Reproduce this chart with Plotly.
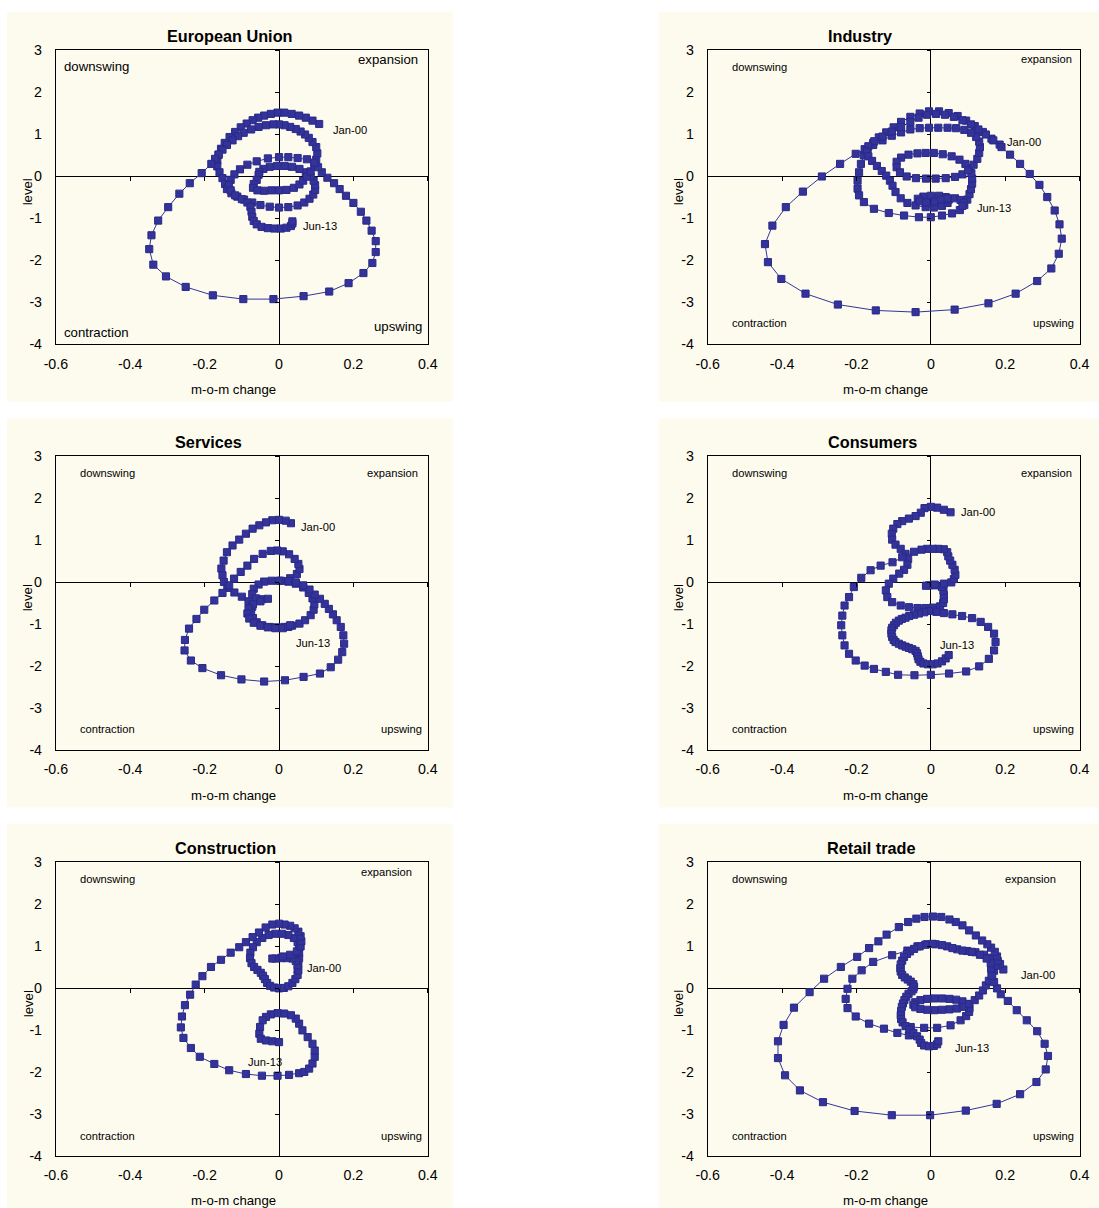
import plotly.graph_objects as go

# ---------------- data (m-o-m change, level) ----------------
panel_titles = ["European Union", "Industry", "Services", "Consumers", "Construction", "Retail trade"]
x_tick_vals = [-0.6, -0.4, -0.2, 0, 0.2, 0.4]
x_tick_text = ["-0.6", "-0.4", "-0.2", "0", "0.2", "0.4"]
y_tick_vals = [3, 2, 1, 0, -1, -2, -3, -4]
y_tick_text = ["3", "2", "1", "0", "-1", "-2", "-3", "-4"]
quadrant_names = ["downswing", "expansion", "contraction", "upswing"]
first_label, last_label = "Jan-00", "Jun-13"
x_title, y_title = "m-o-m change", "level"

eu_points = [
    (0.108, 1.25), (0.090, 1.33), (0.072, 1.40), (0.054, 1.45), (0.034, 1.49), (0.014, 1.52), (-0.004, 1.52),
    (-0.022, 1.49), (-0.040, 1.45), (-0.056, 1.40), (-0.071, 1.34), (-0.087, 1.26), (-0.103, 1.17), (-0.118, 1.06),
    (-0.133, 0.94), (-0.146, 0.80), (-0.156, 0.66), (-0.163, 0.52), (-0.166, 0.38), (-0.166, 0.24), (-0.160, 0.10),
    (-0.152, -0.04), (-0.145, -0.18), (-0.140, -0.30), (-0.128, -0.40), (-0.112, -0.48), (-0.094, -0.55),
    (-0.072, -0.62), (-0.050, -0.68), (-0.025, -0.72), (0.000, -0.74), (0.025, -0.73), (0.050, -0.69),
    (0.068, -0.62), (0.082, -0.53), (0.092, -0.43), (0.097, -0.32), (0.097, -0.21), (0.093, -0.10), (0.085, 0.00),
    (0.072, 0.10), (0.055, 0.18), (0.035, 0.23), (0.015, 0.25), (-0.005, 0.25), (-0.025, 0.23), (-0.042, 0.18),
    (-0.053, 0.11), (-0.055, 0.04), (-0.060, -0.08), (-0.068, -0.18), (-0.070, -0.27), (-0.058, -0.33),
    (-0.040, -0.34), (-0.020, -0.33), (0.000, -0.33), (0.020, -0.32), (0.040, -0.27), (0.055, -0.19),
    (0.065, -0.10), (0.075, 0.00), (0.085, 0.12), (0.095, 0.25), (0.100, 0.40), (0.103, 0.55), (0.100, 0.70),
    (0.090, 0.82), (0.080, 0.92), (0.070, 1.00), (0.058, 1.07), (0.045, 1.13), (0.030, 1.18), (0.015, 1.22),
    (0.000, 1.24), (-0.015, 1.24), (-0.035, 1.22), (-0.055, 1.18), (-0.075, 1.12), (-0.095, 1.04), (-0.110, 0.96),
    (-0.125, 0.86), (-0.140, 0.75), (-0.152, 0.64), (-0.162, 0.52), (-0.172, 0.42), (-0.182, 0.30),
    (-0.208, 0.08), (-0.240, -0.16), (-0.268, -0.41), (-0.298, -0.73), (-0.325, -1.05), (-0.343, -1.40),
    (-0.349, -1.73), (-0.338, -2.10), (-0.304, -2.38), (-0.251, -2.63), (-0.178, -2.83), (-0.096, -2.92),
    (-0.015, -2.92), (0.066, -2.85), (0.135, -2.74), (0.187, -2.54), (0.227, -2.30), (0.251, -2.06),
    (0.260, -1.80), (0.260, -1.54), (0.249, -1.29), (0.235, -1.05), (0.220, -0.84), (0.200, -0.63),
    (0.180, -0.46), (0.163, -0.30), (0.148, -0.16), (0.130, -0.03), (0.115, 0.10), (0.105, 0.22), (0.095, 0.33),
    (0.075, 0.41), (0.050, 0.44), (0.025, 0.46), (0.000, 0.46), (-0.030, 0.43), (-0.060, 0.36), (-0.085, 0.28),
    (-0.105, 0.17), (-0.120, 0.05), (-0.130, -0.08), (-0.135, -0.20), (-0.130, -0.33), (-0.118, -0.45),
    (-0.100, -0.54), (-0.085, -0.62), (-0.077, -0.72), (-0.074, -0.84), (-0.072, -0.96), (-0.068, -1.06),
    (-0.060, -1.14), (-0.047, -1.20), (-0.030, -1.23), (-0.012, -1.24), (0.005, -1.24), (0.020, -1.22),
    (0.032, -1.18), (0.036, -1.12), (0.036, -1.07),
]

industry_points = [
    (0.185, 0.76), (0.163, 0.90), (0.140, 1.06), (0.118, 1.20), (0.095, 1.33), (0.072, 1.44), (0.048, 1.51),
    (0.022, 1.55), (-0.005, 1.55), (-0.030, 1.50), (-0.055, 1.42), (-0.080, 1.30), (-0.100, 1.17), (-0.120, 1.05),
    (-0.140, 0.93), (-0.155, 0.80), (-0.170, 0.66), (-0.180, 0.50), (-0.188, 0.30), (-0.193, 0.10), (-0.197, -0.10),
    (-0.197, -0.29), (-0.193, -0.45), (-0.180, -0.61), (-0.153, -0.77), (-0.113, -0.87), (-0.072, -0.93),
    (-0.032, -0.97), (0.000, -0.97), (0.030, -0.93), (0.057, -0.88), (0.078, -0.80), (0.090, -0.68),
    (0.098, -0.55), (0.104, -0.42), (0.108, -0.30), (0.111, -0.17), (0.111, -0.05), (0.109, 0.08), (0.103, 0.20),
    (0.093, 0.30), (0.077, 0.40), (0.056, 0.48), (0.032, 0.53), (0.008, 0.56), (-0.014, 0.56), (-0.036, 0.55),
    (-0.060, 0.52), (-0.080, 0.45), (-0.092, 0.35), (-0.092, 0.22), (-0.083, 0.10), (-0.065, 0.00),
    (-0.040, -0.04), (-0.013, -0.05), (0.013, -0.05), (0.040, -0.04), (0.065, -0.01), (0.085, 0.05), (0.100, 0.15),
    (0.115, 0.28), (0.125, 0.42), (0.130, 0.56), (0.132, 0.70), (0.130, 0.83), (0.122, 0.94), (0.108, 1.04),
    (0.090, 1.11), (0.068, 1.15), (0.045, 1.16), (0.020, 1.16), (-0.005, 1.16), (-0.030, 1.15), (-0.055, 1.12),
    (-0.080, 1.05), (-0.105, 0.97), (-0.130, 0.86), (-0.155, 0.75), (-0.178, 0.65), (-0.202, 0.54),
    (-0.244, 0.30), (-0.293, 0.00), (-0.344, -0.36), (-0.390, -0.73), (-0.426, -1.17), (-0.446, -1.61),
    (-0.438, -2.04), (-0.402, -2.44), (-0.337, -2.79), (-0.250, -3.05), (-0.148, -3.19), (-0.041, -3.23),
    (0.064, -3.17), (0.155, -3.02), (0.228, -2.79), (0.286, -2.49), (0.324, -2.19), (0.344, -1.84),
    (0.352, -1.48), (0.346, -1.14), (0.333, -0.81), (0.313, -0.49), (0.292, -0.20), (0.266, 0.06), (0.240, 0.30),
    (0.213, 0.52), (0.190, 0.70), (0.168, 0.86), (0.148, 1.00), (0.128, 1.12), (0.108, 1.24), (0.085, 1.34),
    (0.062, 1.42), (0.038, 1.47), (0.014, 1.49), (-0.010, 1.47), (-0.033, 1.40), (-0.055, 1.30), (-0.080, 1.18),
    (-0.105, 1.07), (-0.130, 0.95), (-0.152, 0.84), (-0.168, 0.72), (-0.172, 0.60), (-0.168, 0.48),
    (-0.158, 0.37), (-0.145, 0.25), (-0.132, 0.13), (-0.120, 0.02), (-0.110, -0.10), (-0.103, -0.22),
    (-0.095, -0.37), (-0.081, -0.52), (-0.063, -0.63), (-0.041, -0.69), (-0.014, -0.73), (0.008, -0.74),
    (0.030, -0.70), (0.045, -0.63), (0.048, -0.55), (0.040, -0.49), (0.022, -0.46), (0.000, -0.46),
    (-0.020, -0.48), (-0.035, -0.53), (-0.030, -0.59), (-0.012, -0.62), (0.010, -0.60), (0.028, -0.55),
    (0.045, -0.52), (0.065, -0.52), (0.080, -0.56), (0.088, -0.63), (0.085, -0.70),
]

services_points = [
    (0.032, 1.41), (0.018, 1.47), (0.000, 1.49), (-0.018, 1.48), (-0.035, 1.43), (-0.053, 1.36), (-0.071, 1.28),
    (-0.089, 1.16), (-0.107, 1.02), (-0.125, 0.88), (-0.140, 0.72), (-0.149, 0.52), (-0.155, 0.33),
    (-0.152, 0.17), (-0.148, 0.01), (-0.139, -0.13), (-0.120, -0.24), (-0.100, -0.34), (-0.082, -0.45),
    (-0.072, -0.58), (-0.075, -0.72), (-0.070, -0.85), (-0.060, -0.95), (-0.045, -1.02), (-0.025, -1.06),
    (-0.005, -1.07), (0.015, -1.06), (0.035, -1.03), (0.055, -0.98), (0.070, -0.90), (0.085, -0.78),
    (0.093, -0.65), (0.095, -0.52), (0.090, -0.38), (0.080, -0.25), (0.065, -0.12), (0.045, -0.03),
    (0.025, 0.02), (0.005, 0.04), (0.030, 0.10), (0.048, 0.20), (0.055, 0.32), (0.052, 0.44), (0.042, 0.56),
    (0.027, 0.67), (0.010, 0.74), (-0.005, 0.76), (-0.022, 0.75), (-0.044, 0.68), (-0.067, 0.56),
    (-0.085, 0.40), (-0.103, 0.25), (-0.121, 0.09), (-0.134, -0.07), (-0.152, -0.25), (-0.174, -0.43),
    (-0.201, -0.65), (-0.222, -0.87), (-0.242, -1.10), (-0.253, -1.37), (-0.254, -1.62), (-0.237, -1.86),
    (-0.206, -2.04), (-0.156, -2.21), (-0.101, -2.31), (-0.040, -2.36), (0.016, -2.33), (0.066, -2.25),
    (0.110, -2.17), (0.139, -2.02), (0.159, -1.84), (0.170, -1.66), (0.175, -1.46), (0.173, -1.26),
    (0.166, -1.06), (0.155, -0.90), (0.145, -0.76), (0.134, -0.63), (0.123, -0.51), (0.110, -0.39),
    (0.096, -0.29), (0.082, -0.17), (0.065, -0.07), (0.045, 0.00), (0.025, 0.03), (0.000, 0.04),
    (-0.020, 0.04), (-0.040, 0.02), (-0.055, -0.05), (-0.068, -0.15), (-0.072, -0.28), (-0.062, -0.38),
    (-0.045, -0.40), (-0.030, -0.39), (-0.050, -0.45), (-0.070, -0.52), (-0.082, -0.62), (-0.085, -0.74),
    (-0.080, -0.86), (-0.068, -0.96), (-0.050, -1.03), (-0.030, -1.07), (-0.010, -1.09), (0.010, -1.09),
    (0.025, -1.06), (0.030, -1.02),
]

consumers_points = [
    (0.053, 1.67), (0.035, 1.73), (0.017, 1.78), (0.000, 1.80), (-0.017, 1.77), (-0.027, 1.66), (-0.041, 1.58),
    (-0.059, 1.52), (-0.077, 1.46), (-0.090, 1.39), (-0.101, 1.28), (-0.105, 1.16), (-0.104, 1.02),
    (-0.095, 0.90), (-0.081, 0.80), (-0.068, 0.68), (-0.061, 0.56), (-0.063, 0.42), (-0.072, 0.30),
    (-0.085, 0.21), (-0.101, 0.09), (-0.113, -0.03), (-0.121, -0.19), (-0.117, -0.35), (-0.104, -0.47),
    (-0.081, -0.55), (-0.059, -0.59), (-0.036, -0.61), (-0.015, -0.61), (0.005, -0.60), (0.025, -0.57),
    (0.033, -0.49), (0.035, -0.40), (0.035, -0.30), (0.034, -0.20), (0.030, -0.11), (0.012, -0.07),
    (-0.005, -0.07), (-0.013, -0.08), (0.010, -0.05), (0.035, -0.03), (0.055, 0.00), (0.062, 0.08),
    (0.066, 0.18), (0.064, 0.30), (0.058, 0.42), (0.052, 0.52), (0.047, 0.62), (0.044, 0.72), (0.035, 0.79),
    (0.020, 0.80), (0.005, 0.80), (-0.010, 0.80), (-0.025, 0.78), (-0.045, 0.73), (-0.077, 0.60),
    (-0.103, 0.48), (-0.135, 0.40), (-0.162, 0.29), (-0.187, 0.11), (-0.207, -0.11), (-0.220, -0.35),
    (-0.232, -0.55), (-0.238, -0.79), (-0.241, -1.02), (-0.238, -1.26), (-0.232, -1.50), (-0.220, -1.70),
    (-0.202, -1.86), (-0.178, -1.98), (-0.153, -2.06), (-0.121, -2.13), (-0.088, -2.20), (-0.044, -2.21),
    (0.000, -2.20), (0.049, -2.17), (0.095, -2.12), (0.130, -2.00), (0.156, -1.82), (0.170, -1.62),
    (0.174, -1.42), (0.170, -1.22), (0.154, -1.06), (0.134, -0.94), (0.111, -0.85), (0.084, -0.80),
    (0.058, -0.76), (0.035, -0.73), (0.015, -0.70), (-0.005, -0.68), (-0.018, -0.71), (-0.032, -0.74),
    (-0.045, -0.77), (-0.058, -0.80), (-0.068, -0.84), (-0.078, -0.87), (-0.086, -0.91), (-0.094, -0.96),
    (-0.099, -1.02), (-0.104, -1.08), (-0.106, -1.14), (-0.106, -1.22), (-0.104, -1.30), (-0.100, -1.37),
    (-0.095, -1.42), (-0.086, -1.46), (-0.077, -1.50), (-0.068, -1.53), (-0.059, -1.56), (-0.050, -1.59),
    (-0.041, -1.63), (-0.037, -1.69), (-0.035, -1.76), (-0.033, -1.83), (-0.028, -1.89), (-0.020, -1.93),
    (-0.008, -1.95), (0.005, -1.95), (0.018, -1.93), (0.030, -1.88), (0.040, -1.81), (0.048, -1.73),
]

construction_points = [
    (0.050, 0.45), (0.052, 0.59), (0.054, 0.72), (0.054, 0.85), (0.054, 0.98), (0.050, 1.10), (0.040, 1.20),
    (0.025, 1.27), (0.008, 1.30), (-0.010, 1.30), (-0.028, 1.27), (-0.045, 1.20), (-0.060, 1.10),
    (-0.070, 0.98), (-0.077, 0.85), (-0.078, 0.72), (-0.074, 0.60), (-0.067, 0.51), (-0.058, 0.44),
    (-0.049, 0.37), (-0.043, 0.30), (-0.038, 0.22), (-0.032, 0.13), (-0.024, 0.06), (-0.013, 0.02),
    (0.000, 0.00), (0.013, 0.01), (0.025, 0.05), (0.036, 0.13), (0.044, 0.22), (0.050, 0.32), (0.052, 0.43),
    (0.050, 0.55), (0.045, 0.65), (0.036, 0.71), (0.020, 0.72), (0.005, 0.72), (-0.010, 0.71), (-0.018, 0.71),
    (0.010, 0.76), (0.030, 0.80), (0.048, 0.88), (0.058, 1.00), (0.060, 1.12), (0.058, 1.24), (0.052, 1.35),
    (0.042, 1.43), (0.030, 1.49), (0.015, 1.52), (0.000, 1.54), (-0.018, 1.52), (-0.036, 1.45),
    (-0.054, 1.33), (-0.071, 1.22), (-0.089, 1.10), (-0.107, 0.98), (-0.130, 0.85), (-0.156, 0.68),
    (-0.183, 0.51), (-0.206, 0.29), (-0.224, 0.09), (-0.239, -0.15), (-0.253, -0.40), (-0.261, -0.67),
    (-0.264, -0.93), (-0.257, -1.18), (-0.237, -1.42), (-0.213, -1.63), (-0.174, -1.80), (-0.134, -1.95),
    (-0.089, -2.04), (-0.046, -2.08), (-0.004, -2.08), (0.027, -2.06), (0.054, -2.02), (0.068, -1.99),
    (0.081, -1.91), (0.090, -1.79), (0.096, -1.63), (0.096, -1.48), (0.090, -1.32), (0.077, -1.16),
    (0.063, -1.00), (0.054, -0.84), (0.045, -0.72), (0.032, -0.64), (0.014, -0.60), (-0.004, -0.59),
    (-0.022, -0.62), (-0.035, -0.68), (-0.044, -0.76), (-0.051, -0.92), (-0.053, -1.08), (-0.049, -1.20),
    (-0.035, -1.24), (-0.018, -1.26), (0.000, -1.28),
]

retail_points = [
    (0.195, 0.45), (0.186, 0.58), (0.175, 0.68), (0.161, 0.73), (0.143, 0.80), (0.120, 0.86), (0.098, 0.89),
    (0.071, 0.93), (0.044, 1.00), (0.013, 1.05), (-0.010, 1.05), (-0.036, 1.00), (-0.063, 0.90),
    (-0.104, 0.79), (-0.155, 0.63), (-0.186, 0.43), (-0.211, 0.23), (-0.224, -0.01), (-0.229, -0.25),
    (-0.224, -0.47), (-0.202, -0.67), (-0.166, -0.84), (-0.126, -0.96), (-0.090, -1.06), (-0.059, -1.12),
    (-0.054, -0.92), (-0.018, -0.94), (0.017, -0.94), (0.053, -0.88), (0.080, -0.76), (0.095, -0.66),
    (0.103, -0.56), (0.104, -0.47), (0.098, -0.38), (0.085, -0.31), (0.068, -0.27), (0.050, -0.25),
    (0.030, -0.24), (0.010, -0.24), (-0.010, -0.25), (-0.028, -0.28), (-0.042, -0.33), (-0.047, -0.39),
    (-0.042, -0.45), (-0.028, -0.49), (-0.010, -0.51), (0.010, -0.52), (0.030, -0.51), (0.050, -0.50),
    (0.070, -0.48), (0.088, -0.44), (0.103, -0.37), (0.118, -0.28), (0.130, -0.17), (0.140, -0.05),
    (0.148, 0.07), (0.156, 0.18), (0.163, 0.30), (0.170, 0.42), (0.176, 0.54), (0.180, 0.65), (0.178, 0.76),
    (0.172, 0.87), (0.162, 0.97), (0.152, 1.05), (0.138, 1.14), (0.121, 1.26), (0.103, 1.38), (0.085, 1.50),
    (0.067, 1.58), (0.050, 1.64), (0.028, 1.70), (0.006, 1.71), (-0.017, 1.70), (-0.039, 1.66),
    (-0.061, 1.58), (-0.086, 1.46), (-0.119, 1.28), (-0.141, 1.12), (-0.166, 0.96), (-0.198, 0.75),
    (-0.242, 0.51), (-0.287, 0.23), (-0.326, -0.09), (-0.368, -0.46), (-0.396, -0.87), (-0.411, -1.26),
    (-0.411, -1.66), (-0.392, -2.07), (-0.352, -2.43), (-0.290, -2.71), (-0.205, -2.92), (-0.105, -3.02),
    (-0.002, -3.02), (0.094, -2.91), (0.177, -2.75), (0.240, -2.52), (0.284, -2.23), (0.309, -1.93),
    (0.315, -1.61), (0.306, -1.32), (0.286, -1.02), (0.258, -0.76), (0.231, -0.52), (0.207, -0.30),
    (0.188, -0.14), (0.178, 0.00), (0.170, 0.15), (0.165, 0.30), (0.162, 0.47), (0.161, 0.60), (0.150, 0.71),
    (0.132, 0.80), (0.110, 0.87), (0.085, 0.90), (0.058, 0.96), (0.030, 1.03), (0.005, 1.06), (-0.015, 1.04),
    (-0.030, 1.00), (-0.045, 0.94), (-0.056, 0.88), (-0.064, 0.82), (-0.072, 0.75), (-0.077, 0.66),
    (-0.081, 0.57), (-0.082, 0.48), (-0.081, 0.40), (-0.077, 0.32), (-0.070, 0.26), (-0.062, 0.21),
    (-0.054, 0.16), (-0.047, 0.10), (-0.045, 0.04), (-0.047, -0.02), (-0.052, -0.07), (-0.060, -0.13),
    (-0.066, -0.20), (-0.071, -0.28), (-0.075, -0.36), (-0.078, -0.44), (-0.080, -0.54), (-0.081, -0.64),
    (-0.080, -0.73), (-0.076, -0.81), (-0.068, -0.90), (-0.058, -0.98), (-0.047, -1.06), (-0.037, -1.14),
    (-0.030, -1.22), (-0.026, -1.30), (-0.018, -1.36), (-0.005, -1.38), (0.008, -1.37), (0.017, -1.33),
    (0.020, -1.26),
]

series_list = [eu_points, industry_points, services_points, consumers_points, construction_points, retail_points]

# ---------------- layout geometry: target pixels in the photographed 1099 x 1208 picture ----------------
plot_boxes = [(55, 50, 427, 344), (707, 50, 1079, 344),
              (55, 456, 427, 750), (707, 456, 1079, 750),
              (55, 862, 427, 1156), (707, 862, 1079, 1156)]
panel_boxes = [(6, 11, 452, 401), (658, 11, 1098, 401),
               (6, 418, 452, 807), (658, 418, 1098, 807),
               (6, 823, 452, 1212), (658, 823, 1098, 1212)]
title_pos = [(229, 36), (859, 36), (208, 442), (872, 442), (225, 848), (871, 848)]
xtitle_pos = [(233, 389), (885, 389), (233, 795), (885, 795), (233, 1200), (885, 1200)]
ytitle_pos = [(27, 191), (678, 191), (27, 597), (678, 597), (27, 1003), (678, 1003)]
# quadrant label anchor pixels: downswing(left), expansion(right), contraction(left), upswing(right)
quad_pos = [
    [(61, 66), (419, 59), (61, 332), (423, 326)],
    [(729, 67), (1073, 59), (729, 323), (1075, 323)],
    [(77, 473), (419, 473), (77, 729), (423, 729)],
    [(729, 473), (1073, 473), (729, 729), (1075, 729)],
    [(77, 879), (413, 872), (77, 1136), (423, 1136)],
    [(729, 879), (1057, 879), (729, 1136), (1075, 1136)],
]
quad_font = [13, 11, 11, 11, 11, 11]
# label anchor (data coords) for first and last month
first_label_pos = [(0.139, 1.10), (0.200, 0.81), (0.054, 1.33), (0.075, 1.67), (0.069, 0.48), (0.236, 0.31)]
last_label_pos = [(0.058, -1.19), (0.120, -0.74), (0.040, -1.45), (0.018, -1.48), (-0.089, -1.76), (0.059, -1.43)]

# the photograph maps page pixel p to picture pixel OFF + SCALE * p; invert it so targets land right
PHOTO_X0, PHOTO_SX = 11.1, 0.9805
PHOTO_Y0, PHOTO_SY = 7.5, 0.987
W, H = 1112, 1218
K = 1 / ((PHOTO_SX + PHOTO_SY) / 2)   # size compensation for fonts / markers

X_RANGE = [-0.6, 0.4]
Y_RANGE = [-4, 3]
FONT = "Arial, 'Liberation Sans', 'DejaVu Sans', sans-serif"
NAVY = "#333399"
PANEL_BG = "#FDFBEE"
PLOT_BG = "#FFFEF5"


def fx(p):
    return ((p - PHOTO_X0) / PHOTO_SX) / W


def fy(p):
    return 1 - ((p - PHOTO_Y0) / PHOTO_SY) / H


fig = go.Figure()
layout = dict(
    width=W, height=H, margin=dict(l=0, r=0, t=0, b=0),
    paper_bgcolor="white", plot_bgcolor=PLOT_BG, showlegend=False,
    font=dict(family=FONT, color="black"),
    shapes=[], annotations=[],
)

for i, (pts, (l, t, r, b)) in enumerate(zip(series_list, plot_boxes), start=1):
    mom = [p[0] for p in pts]
    lev = [p[1] for p in pts]
    fig.add_trace(go.Scatter(
        x=mom, y=lev, xaxis=f"x{i}", yaxis=f"y{i}", mode="lines+markers",
        line=dict(color=NAVY, width=1),
        marker=dict(symbol="square", size=7 * K, color=NAVY, line=dict(color="#2a2a8a", width=1)),
        hoverinfo="skip", cliponaxis=True,
    ))
    # helper traces so the crossing tick axes get drawn
    fig.add_trace(go.Scatter(x=[None], y=[None], xaxis=f"x{i + 6}", yaxis=f"y{i}", hoverinfo="skip"))
    fig.add_trace(go.Scatter(x=[None], y=[None], xaxis=f"x{i}", yaxis=f"y{i + 6}", hoverinfo="skip"))

    xdom = [fx(l), fx(r)]
    ydom = [fy(b), fy(t)]
    layout[f"xaxis{i}"] = dict(
        domain=xdom, range=X_RANGE, anchor=f"y{i}", tickmode="array",
        tickvals=x_tick_vals, ticktext=x_tick_text, ticks="", showgrid=False,
        showline=True, mirror=True, linecolor="black", linewidth=1,
        zeroline=True, zerolinecolor="black", zerolinewidth=1,
        tickfont=dict(size=14 * K, family=FONT, color="black"), ticklabelstandoff=6, fixedrange=True,
    )
    layout[f"yaxis{i}"] = dict(
        domain=ydom, range=Y_RANGE, anchor=f"x{i}", tickmode="array",
        tickvals=y_tick_vals, ticktext=y_tick_text, ticks="", showgrid=False,
        showline=True, mirror=True, linecolor="black", linewidth=1,
        zeroline=True, zerolinecolor="black", zerolinewidth=1,
        tickfont=dict(size=14 * K, family=FONT, color="black"), ticklabelstandoff=10, fixedrange=True,
    )
    # zero-crossing axes carrying the small tick marks
    zero_y_frac = ydom[0] + (0 - Y_RANGE[0]) / (Y_RANGE[1] - Y_RANGE[0]) * (ydom[1] - ydom[0])
    zero_x_frac = xdom[0] + (0 - X_RANGE[0]) / (X_RANGE[1] - X_RANGE[0]) * (xdom[1] - xdom[0])
    layout[f"xaxis{i + 6}"] = dict(
        domain=xdom, range=X_RANGE, overlaying=f"x{i}", anchor="free", position=zero_y_frac,
        side="bottom", tickmode="array", tickvals=x_tick_vals, ticks="outside", ticklen=4,
        tickwidth=1, tickcolor="black", showticklabels=False, showline=False, showgrid=False,
        zeroline=False, fixedrange=True,
    )
    layout[f"yaxis{i + 6}"] = dict(
        domain=ydom, range=Y_RANGE, overlaying=f"y{i}", anchor="free", position=zero_x_frac,
        side="left", tickmode="array", tickvals=y_tick_vals, ticks="outside", ticklen=4,
        tickwidth=1, tickcolor="black", showticklabels=False, showline=False, showgrid=False,
        zeroline=False, fixedrange=True,
    )

# panel backgrounds
for (l, t, r, b) in panel_boxes:
    layout["shapes"].append(dict(
        type="rect", xref="paper", yref="paper", x0=fx(l), x1=fx(r), y0=fy(b), y1=fy(t),
        fillcolor=PANEL_BG, line=dict(width=0), layer="below",
    ))

ann = layout["annotations"]
for i in range(6):
    tx, ty = title_pos[i]
    ann.append(dict(text=f"<b>{panel_titles[i]}</b>", x=fx(tx), y=fy(ty), xref="paper", yref="paper",
                    xanchor="center", yanchor="middle", showarrow=False,
                    font=dict(size=16 * K, family=FONT, color="black")))
    ax, ay = xtitle_pos[i]
    ann.append(dict(text=x_title, x=fx(ax), y=fy(ay), xref="paper", yref="paper",
                    xanchor="center", yanchor="middle", showarrow=False,
                    font=dict(size=13 * K, family=FONT, color="black")))
    vx, vy = ytitle_pos[i]
    ann.append(dict(text=y_title, x=fx(vx), y=fy(vy), xref="paper", yref="paper", textangle=-90,
                    xanchor="center", yanchor="middle", showarrow=False,
                    font=dict(size=13 * K, family=FONT, color="black")))
    for k, name in enumerate(quadrant_names):
        qx, qy = quad_pos[i][k]
        ann.append(dict(text=name, x=fx(qx), y=fy(qy), xref="paper", yref="paper",
                        xanchor="left" if k in (0, 2) else "right", yanchor="middle",
                        showarrow=False, font=dict(size=quad_font[i] * K, family=FONT, color="black")))
    for lab, (lx, ly) in ((first_label, first_label_pos[i]), (last_label, last_label_pos[i])):
        ann.append(dict(text=lab, x=lx, y=ly, xref=f"x{i + 1}", yref=f"y{i + 1}",
                        xanchor="left", yanchor="middle", showarrow=False,
                        font=dict(size=11 * K, family=FONT, color="black")))

fig.update_layout(**layout)
fig.write_html(
    "out.html",
    config={"displayModeBar": False},
    post_script="document.body.style.margin='0px';",
)
